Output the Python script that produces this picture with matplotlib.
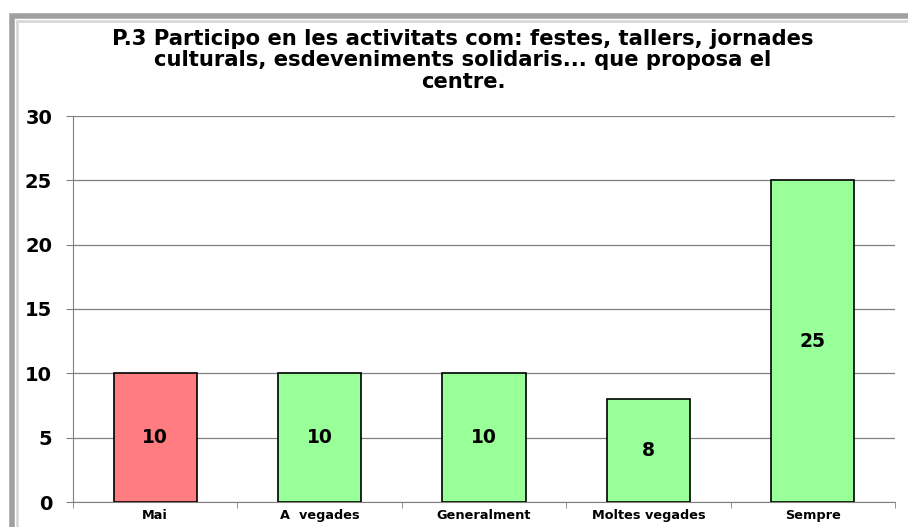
import matplotlib.pyplot as plt
from matplotlib.patches import Rectangle

categories = ['Mai', 'A  vegades', 'Generalment', 'Moltes vegades', 'Sempre']
values = [10, 10, 10, 8, 25]
bar_colors = ['#FF7C80', '#99FF99', '#99FF99', '#99FF99', '#99FF99']
title = ('P.3 Participo en les activitats com: festes, tallers, jornades\n'
         'culturals, esdeveniments solidaris... que proposa el\n'
         'centre.')

plt.rcParams['font.family'] = ['DejaVu Sans']

fig = plt.figure(figsize=(9.08, 5.27), dpi=100)
W, H = 908, 527
ax = fig.add_axes([73 / W, 1 - 502 / H, (895 - 73) / W, (502 - 116) / H])

# marc gris a l'estil d'Excel
fig.patches.append(Rectangle((12 / W, -0.1), 1.2, (1 - 16 / H) + 0.1,
                             transform=fig.transFigure, fill=False,
                             edgecolor='#A0A0A0', linewidth=4))
fig.patches.append(Rectangle((17 / W, -0.1), 1.2, (1 - 21 / H) + 0.1,
                             transform=fig.transFigure, fill=False,
                             edgecolor='#D8D8D8', linewidth=2))

x = list(range(len(categories)))
bars = ax.bar(x, values, width=0.505, color=bar_colors, edgecolor='black',
              linewidth=1.2, zorder=3)
for b, v in zip(bars, values):
    ax.text(b.get_x() + b.get_width() / 2, v / 2, str(v), ha='center',
            va='center', fontsize=13.5, fontweight='bold', zorder=4)

ax.set_xlim(-0.5, len(categories) - 0.5)
ax.set_ylim(0, 30)
ax.set_yticks(range(0, 31, 5))
ax.yaxis.grid(True, color='#808080', linewidth=0.9, zorder=0)
ax.set_xticks(x)
ax.set_xticklabels(categories, fontsize=9.3, fontweight='bold')
ax.set_xticks([i + 0.5 for i in range(-1, len(categories))], minor=True)
ax.tick_params(axis='x', which='major', length=0, pad=5)
ax.tick_params(axis='x', which='minor', length=4, color='#808080')
ax.tick_params(axis='y', length=5, color='#808080', labelsize=14, pad=10)
for lab in ax.get_yticklabels():
    lab.set_fontweight('bold')
for s in ['top', 'right']:
    ax.spines[s].set_visible(False)
for s in ['left', 'bottom']:
    ax.spines[s].set_color('#808080')

fig.text(463 / W, 1 - 29 / H, title, ha='center', va='top', fontsize=15.2,
         fontweight='bold', linespacing=1.08)

fig.savefig('out.png', dpi=100)
